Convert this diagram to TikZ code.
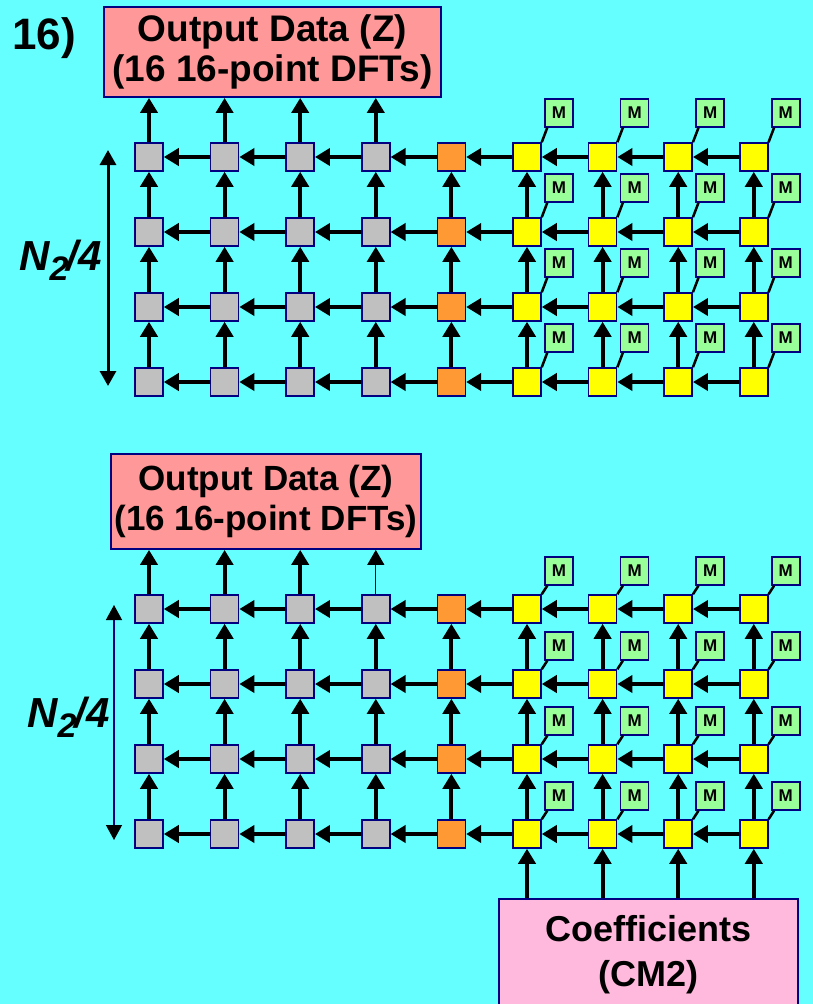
\documentclass[tikz,border=0pt]{standalone}
\usepackage{fontspec}
\setmainfont{Liberation Sans}
\usepackage{xcolor}
\definecolor{SKYbg}{HTML}{66FFFF}
\definecolor{SKYnavy}{HTML}{000080}
\definecolor{SKYsalmon}{HTML}{FF9999}
\definecolor{SKYgray}{HTML}{C0C0C0}
\definecolor{SKYorange}{HTML}{FF9933}
\definecolor{SKYyellow}{HTML}{FFFF00}
\definecolor{SKYmint}{HTML}{99FF99}
\definecolor{SKYpink}{HTML}{FFB9DC}
\usetikzlibrary{arrows.meta, positioning}

\begin{document}
\begin{tikzpicture}[x=1pt, y=-1pt,
  pe/.style={draw=SKYnavy, line width=1.5pt, minimum size=28pt, inner sep=0pt},
  mem/.style={pe, fill=SKYmint, font=\bfseries\fontsize{17}{17}\selectfont},
  iobox/.style={draw=SKYnavy, line width=1.8pt, inner sep=0pt, align=center,
    font=\bfseries\fontsize{35}{40}\selectfont},
  link/.style={-{Triangle[length=15pt, width=17pt]}, line width=4pt},
  thinlink/.style={-{Triangle[length=15pt, width=17pt, color=black, fill=black]},
    line width=1.3pt, draw=SKYnavy},
  span/.style={{Triangle[length=15pt, width=16pt]}-{Triangle[length=15pt, width=16pt]}, line width=3pt},
  thinspan/.style={{Triangle[length=15pt, width=16pt, color=black, fill=black]}-{Triangle[length=15pt, width=16pt, color=black, fill=black]},
    line width=1.3pt, draw=SKYnavy},
  tag/.style={font=\bfseries\itshape\fontsize{42}{42}\selectfont, inner sep=0pt, anchor=base west}]

% Page and background
\useasboundingbox (0,0) rectangle (813,1004);
\fill[SKYbg] (0,0) rectangle (813,1004);

\node[font=\bfseries\fontsize{44}{44}\selectfont, inner sep=0pt, anchor=base west] (num) at (12,49) {16)};

% Processing elements of both arrays
\foreach \p/\y in {t/157, b/609} {
  \foreach \c/\fc in {1/SKYgray, 2/SKYgray, 3/SKYgray, 4/SKYgray, 5/SKYorange,
                      6/SKYyellow, 7/SKYyellow, 8/SKYyellow, 9/SKYyellow} {
    \foreach \r in {1,...,4} {
      \node[pe, fill=\fc] (\p-\c-\r) at ({149+75.6*(\c-1)}, {\y+75*(\r-1)}) {};
    }
  }
}

% Links inside the arrays
\foreach \p in {t,b} {
  \foreach \c in {2,...,9} {
    \pgfmathtruncatemacro\cleft{\c-1}
    \foreach \r in {1,...,4}
      \draw[link] (\p-\c-\r) -- (\p-\cleft-\r);
  }
  \foreach \r in {2,...,4} {
    \pgfmathtruncatemacro\rup{\r-1}
    \foreach \c in {1,...,9}
      \draw[link] (\p-\c-\r) -- (\p-\c-\rup);
  }
}

% Memories on the yellow elements
\foreach \p/\mo in {t/44, b/38} {
  \foreach \c in {6,...,9}
    \foreach \r in {1,...,4} {
      \node[mem] (\p m-\c-\r) at ([shift={(32,-\mo)}]\p-\c-\r) {M};
      \draw[line width=2.5pt] (\p-\c-\r.north east) -- ([xshift=3pt]\p m-\c-\r.south west);
    }
}

% Output boxes
\node[iobox, fill=SKYsalmon, minimum width=337pt, minimum height=90pt,
  font=\bfseries\fontsize{37}{40}\selectfont] (tout) at (272.5,52)
  {Output Data (Z)\\(16 16-point DFTs)};
\node[iobox, fill=SKYsalmon, minimum width=310pt, minimum height=95pt] (bout) at (266,501.5)
  {Output Data (Z)\\(16 16-point DFTs)};
\foreach \c in {1,...,4}
  \draw[link] (t-\c-1) -- (t-\c-1 |- tout.south);
\foreach \c in {1,...,3}
  \draw[link] (b-\c-1) -- (b-\c-1 |- bout.south);
\draw[thinlink] (b-4-1) -- (b-4-1 |- bout.south);

% Coefficients
\node[iobox, fill=SKYpink, minimum width=299pt, minimum height=112pt,
  font=\bfseries\fontsize{36}{45}\selectfont] (coef) at (648.5,955) {Coefficients\\(CM2)};
\foreach \c in {6,...,9}
  \draw[link] (coef.north -| b-\c-4) -- (b-\c-4);

% Array height
\coordinate (tspan top) at (108,150);
\coordinate (tspan bot) at (108,386);
\draw[span] (tspan top) -- (tspan bot);
\node[tag] (tlabel) at (19,270) {N\raisebox{-10pt}{\fontsize{34}{34}\selectfont 2}\kern-2pt/4};
\coordinate (bspan top) at (114,605);
\coordinate (bspan bot) at (114,840);
\draw[thinspan] (bspan top) -- (bspan bot);
\node[tag] (blabel) at (27,727) {N\raisebox{-10pt}{\fontsize{34}{34}\selectfont 2}\kern-2pt/4};
\end{tikzpicture}
\end{document}
